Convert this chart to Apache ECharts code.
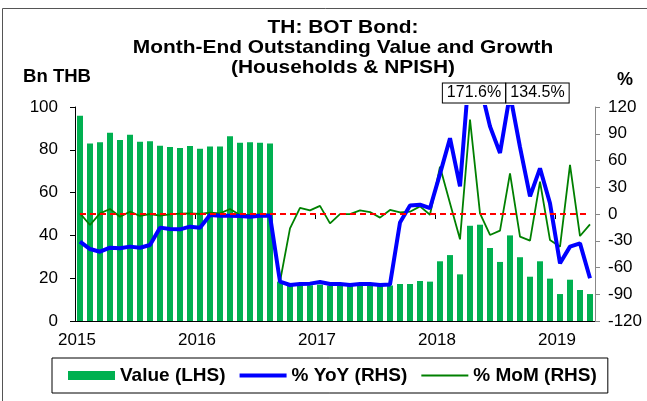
<!DOCTYPE html>
<html>
<head>
<meta charset="utf-8">
<script src="https://cdn.jsdelivr.net/npm/echarts@6/dist/echarts.min.js"></script>
<style>
html,body{margin:0;padding:0;background:#fff;}
#c{width:647px;height:401px;}
</style>
</head>
<body>
<div id="c"></div>
<script>
var months = ['Jan-15','Feb-15','Mar-15','Apr-15','May-15','Jun-15','Jul-15','Aug-15','Sep-15','Oct-15','Nov-15','Dec-15',
'Jan-16','Feb-16','Mar-16','Apr-16','May-16','Jun-16','Jul-16','Aug-16','Sep-16','Oct-16','Nov-16','Dec-16',
'Jan-17','Feb-17','Mar-17','Apr-17','May-17','Jun-17','Jul-17','Aug-17','Sep-17','Oct-17','Nov-17','Dec-17',
'Jan-18','Feb-18','Mar-18','Apr-18','May-18','Jun-18','Jul-18','Aug-18','Sep-18','Oct-18','Nov-18','Dec-18',
'Jan-19','Feb-19','Mar-19','Apr-19'];
var yearLabels = ['2015','2016','2017','2018','2019'];
var valueLHS = [95.9, 82.9, 83.5, 88.0, 84.6, 87.0, 83.8, 84.0, 81.9, 81.3, 80.8, 81.8,
 80.5, 81.6, 81.6, 86.3, 83.3, 83.5, 83.3, 82.9, 18.4, 16.8, 16.6, 16.7,
 17.0, 16.6, 16.6, 16.5, 16.6, 16.7, 16.5, 16.6, 17.3, 17.3, 18.7, 18.4,
 27.9, 30.8, 21.8, 44.5, 45.0, 34.1, 27.6, 40.0, 29.8, 20.7, 27.9, 19.8,
 12.6, 19.3, 14.5, 12.6];
var yoyRHS = [-31.0, -39.3, -42.3, -37.8, -38.5, -36.6, -37.8, -34.8, -15.3, -16.8, -17.2, -14.2,
 -15.3, -1.1, -1.9, -1.9, -2.3, -3.0, -1.9, -1.9, -75.9, -79.6, -78.5, -78.1,
 -76.3, -78.5, -78.5, -79.6, -78.5, -78.5, -79.6, -79.0, -9.5, 9.5, 10.5, 6.5,
 45.0, 85.0, 31.0, 171.6, 145.0, 98.3, 68.4, 134.5, 75.0, 19.8, 51.2, 12.0,
 -55.3, -36.6, -32.9, -72.0];
var momRHS = [0.7, -12.3, 0.7, 5.6, -3.0, 2.6, -2.2, 0.0, -1.9, -0.4, 0.4, 0.7,
 0.0, 1.5, 0.7, 5.6, -1.1, -1.1, -0.4, -0.4, -75.9, -16.1, 6.8, 4.0,
 9.1, -10.5, -0.2, -0.2, 4.0, 2.2, -4.1, 4.5, 1.7, 2.6, 8.6, -0.8,
 53.0, 12.0, -28.4, 106.0, 0.7, -23.5, -18.7, 45.6, -25.4, -29.9, 36.3, -29.2,
 -36.6, 55.0, -24.7, -11.6];
var peakLabels = ['171.6%', '134.5%'];
var yearTicks = [0, 12, 24, 36, 48];

var FONT = "'Liberation Sans', Arial, sans-serif";
var chart = echarts.init(document.getElementById('c'), null, {renderer: 'canvas'});
chart.setOption({
  backgroundColor: '#ffffff',
  animation: false,
  grid: {left: 75, top: 107, width: 520, height: 214, containLabel: false},
  legend: {
    left: 52, top: 358,
    borderColor: '#000', borderWidth: 1,
    padding: [7, 11, 7, 16],
    itemGap: 14, itemWidth: 47, itemHeight: 9,
    textStyle: {fontFamily: FONT, fontWeight: 'bold', fontSize: 19, color: '#000', lineHeight: 21},
    data: [
      {name: 'Value (LHS)', icon: 'rect'},
      {name: '% YoY (RHS)', icon: 'path://M0,0 M0,2.5 L47,2.5 L47,6.5 L0,6.5 Z M47,9'},
      {name: '% MoM (RHS)', icon: 'path://M0,0 M0,3.5 L47,3.5 L47,5.5 L0,5.5 Z M47,9'}
    ]
  },
  xAxis: [
    {type: 'category', data: months, boundaryGap: true,
     axisLine: {show: true, lineStyle: {color: '#000', width: 1}},
     axisTick: {show: false}, axisLabel: {show: false}, splitLine: {show: false}},
    {type: 'value', min: 0, max: months.length, position: 'bottom',
     axisLine: {show: false},
     axisTick: {show: true, customValues: yearTicks, length: 5, lineStyle: {color: '#000'}},
     axisLabel: {show: true, customValues: yearTicks, margin: 11, padding: [0, 0, 0, 4],
       formatter: function (v) { return yearLabels[Math.round(v / 12)] || ''; },
       fontFamily: FONT, fontSize: 17, color: '#000'},
     splitLine: {show: false}}
  ],
  yAxis: [
    {type: 'value', min: 0, max: 100, interval: 20, position: 'left',
     axisLine: {show: true, lineStyle: {color: '#000', width: 1}},
     axisTick: {show: true, length: 5, lineStyle: {color: '#000'}},
     axisLabel: {fontFamily: FONT, fontSize: 17, color: '#000', margin: 17},
     splitLine: {show: false}},
    {type: 'value', min: -120, max: 120, interval: 30, position: 'right',
     axisLine: {show: true, lineStyle: {color: '#888', width: 1}},
     axisTick: {show: true, length: 5, lineStyle: {color: '#888'}},
     axisLabel: {fontFamily: FONT, fontSize: 17, color: '#000', margin: 13},
     splitLine: {show: false}}
  ],
  series: [
    {name: 'Value (LHS)', type: 'bar', xAxisIndex: 0, yAxisIndex: 0, data: valueLHS,
     barWidth: 6, itemStyle: {color: '#00B050'}, z: 1},
    {name: 'zero', type: 'line', xAxisIndex: 0, yAxisIndex: 1, data: [], z: 2,
     markLine: {symbol: 'none', silent: true, label: {show: false},
       lineStyle: {color: '#ff0000', type: [6, 4], width: 2},
       data: [[{coord: [months[0], 0]}, {coord: [months[months.length - 1], 0]}]]}},
    {name: '% MoM (RHS)', type: 'line', xAxisIndex: 0, yAxisIndex: 1, data: momRHS,
     symbol: 'none', lineStyle: {color: '#008000', width: 1.8}, itemStyle: {color: '#008000'}, z: 3},
    {name: '% YoY (RHS)', type: 'line', xAxisIndex: 0, yAxisIndex: 1, data: yoyRHS,
     symbol: 'none', lineStyle: {color: '#0000ff', width: 4}, itemStyle: {color: '#0000ff'}, z: 4}
  ],
  graphic: [
    {type: 'rect', shape: {x: 2.5, y: 8.5, width: 700, height: 500}, style: {fill: null, stroke: '#555', lineWidth: 1}, silent: true},
    {type: 'text', x: 343, y: 18, scaleX: 1.1, style: {text: 'TH: BOT Bond:\nMonth-End Outstanding Value and Growth\n(Households & NPISH)',
      textAlign: 'center', font: 'bold 19px ' + FONT, fill: '#000', lineHeight: 20}},
    {type: 'text', x: 57, y: 77, scaleX: 1.03, style: {text: 'Bn THB', textAlign: 'center', textVerticalAlign: 'middle', font: 'bold 18px ' + FONT, fill: '#000'}},
    {type: 'text', x: 625, y: 80, style: {text: '%', textAlign: 'center', textVerticalAlign: 'middle', font: 'bold 18px ' + FONT, fill: '#000'}},
    {type: 'text', x: 474, y: 93, style: {text: peakLabels[0], textAlign: 'center', textVerticalAlign: 'middle', font: '16px ' + FONT, fill: '#000',
      backgroundColor: '#fff', borderColor: '#000', borderWidth: 1, padding: [2, 4, 1, 4]}},
    {type: 'text', x: 537.5, y: 93, style: {text: peakLabels[1], textAlign: 'center', textVerticalAlign: 'middle', font: '16px ' + FONT, fill: '#000',
      backgroundColor: '#fff', borderColor: '#000', borderWidth: 1, padding: [2, 4, 1, 4]}}
  ]
});
</script>
</body>
</html>
